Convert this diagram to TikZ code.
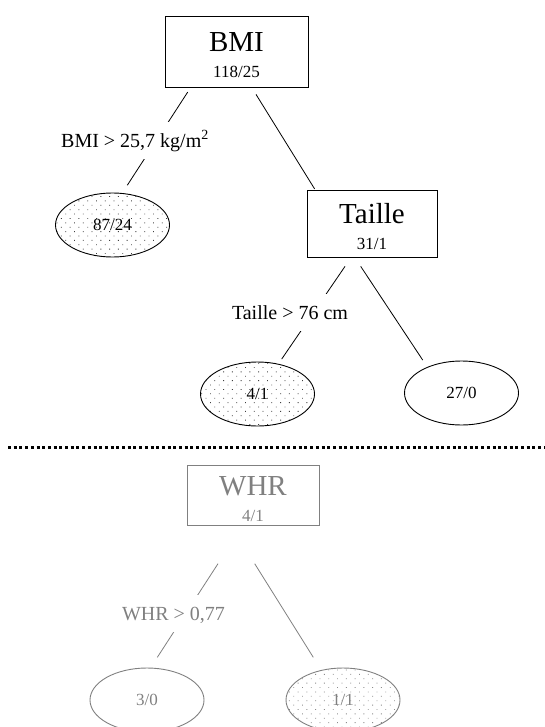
\documentclass[tikz,border=0pt]{standalone}
\usepackage{fontspec}
\setmainfont{Liberation Serif}
\usetikzlibrary{
	shapes.geometric,
	patterns.meta
}
\colorlet{faded}{black!50}

\begin{document}
\begin{tikzpicture}[
	x=1pt, y=-1pt,
	t_split/.style={
		draw, rectangle, line width=0.8pt,
		align=center, inner sep=0pt,
		font=\fontsize{17}{26}\selectfont,
		text height=52pt, text depth=0pt
	},
	t_leaf/.style={
		draw, ellipse, line width=0.9pt,
		minimum width=114pt, minimum height=64pt,
		inner sep=0pt,
		font=\fontsize{17}{17}\selectfont
	},
	t_dots/.style={
		pattern={Dots[distance=6.2pt,angle=45,radius=0.6pt]},
		pattern color=black!75
	},
	t_edge/.style={
		line width=0.8pt
	},
	t_cond/.style={
		fill=white, inner xsep=2pt, inner ysep=8.3pt,
		font=\fontsize{20}{20}\selectfont,
		text height=16.6pt, text depth=3.4pt
	},
	t_faded/.style={
		draw=faded, text=faded
	}
	]
	
	\useasboundingbox (0,0) rectangle (544,727);
	
	% =========================================================================
	% UPPER TREE
	% =========================================================================
	
	\node[t_split, minimum width=143pt, minimum height=71pt]
	(bmi) at (236.5,51.5)
	{{\fontsize{29}{29}\selectfont BMI}\\118/25};
	
	\node[t_leaf, t_dots] (bmihigh) at (112.5,225) {87/24};
	
	\node[t_split, minimum width=130pt, minimum height=67pt]
	(taille) at (372,223.5)
	{{\fontsize{29}{29}\selectfont Taille}\\31/1};
	
	\node[t_leaf, t_dots] (taillehigh) at (257.5,394) {4/1};
	\node[t_leaf] (taillelow) at (461.5,393) {27/0};
	
	% Edges
	\draw[t_edge]
	([shift={(-48.8,4.7)}]bmi.south)--([shift={(14.8,-7.3)}]bmihigh.north);
	
	\draw[t_edge]
	([shift={(19.5,7)}]bmi.south)--([shift={(8,-0.7)}]taille.north west);
	
	\draw[t_edge]
	([shift={(-27,9)}]taille.south)--([shift={(24.2,-2.5)}]taillehigh.north);
	
	\draw[t_edge]
	([shift={(-11.3,9)}]taille.south)--([shift={(-38.8,-0.5)}]taillelow.north);
	
	% Split conditions
	\node[t_cond] (bmicond) at (135,140.5) {BMI > 25,7 kg/m\textsuperscript{2}};
	\node[t_cond] (taillecond) at (290,312.5) {Taille > 76 cm};
	
	% =========================================================================
	% SEPARATOR
	% =========================================================================
	
	\draw[line width=3pt, dash pattern=on 3pt off 2.7pt]
	(8,447)--(544,447);
	
	% =========================================================================
	% LOWER TREE
	% =========================================================================
	
	\node[t_split, t_faded, minimum width=132pt, minimum height=60pt]
	(whr) at (253,495)
	{{\fontsize{29}{29}\selectfont WHR}\\4/1};
	
	\node[t_leaf, t_faded] (whrhigh) at (147,700) {3/0};
	\node[t_leaf, t_faded, t_dots, pattern color=black!45] (whrlow) at (343,700) {1/1};
	
	\draw[t_edge, faded]
	([shift={(-35,38.3)}]whr.south)--([shift={(10.3,-10.2)}]whrhigh.north);
	
	\draw[t_edge, faded]
	([shift={(1.7,38.3)}]whr.south)--([shift={(-29.7,-10.2)}]whrlow.north);
	
	\node[t_cond, text=faded] (whrcond) at (173.5,613.5) {WHR > 0,77};
	
\end{tikzpicture}
\end{document}
